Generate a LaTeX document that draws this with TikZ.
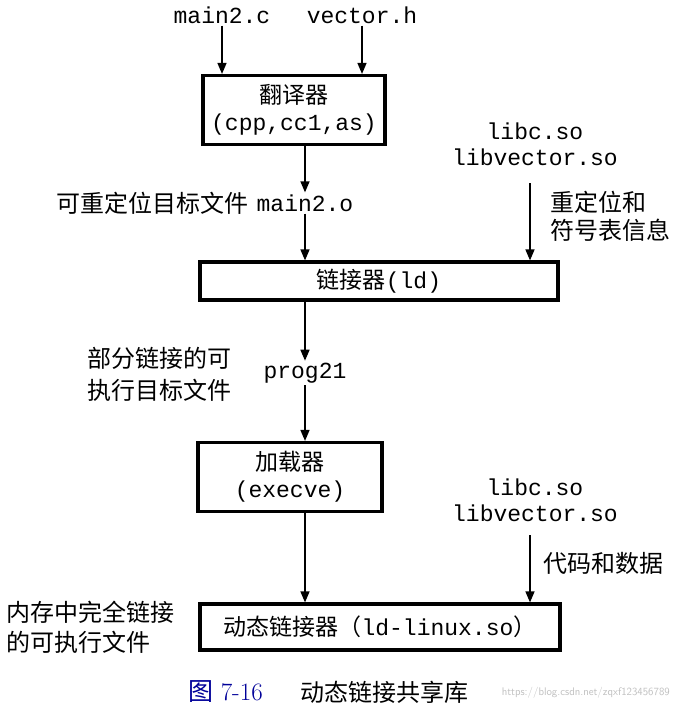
\documentclass[tikz,border=0pt]{standalone}
\usepackage{fontspec}
\setmonofont{Liberation Mono}
\newfontfamily\cjk{Noto Sans CJK SC}
\usepackage{tikz}
\usetikzlibrary{positioning,arrows.meta}

\begin{document}
\begin{tikzpicture}[x=1pt,y=-1pt]
\tikzstyle{every node} = [inner sep = 2pt, font = \fontsize{23}{28}\selectfont];
\tikzstyle{file} = [font = \fontsize{23}{26}\selectfont\ttfamily, align = center];
\tikzstyle{cn} = [font = \fontsize{24}{30}\selectfont\cjk, align = left];
\tikzstyle{box} = [draw, line width = 3.2pt, align = center, inner sep = 0pt];
\tikzstyle{arr} = [line width = 1.4pt, -{Triangle[length=11pt,width=9pt]}];
\useasboundingbox (0,0) rectangle (677,721);
% inputs
\node[file] (mainc) at (222,15) {main2.c};
\node[file] (vech) at (362,15) {vector.h};
\node[box, minimum width = 182, minimum height = 69] (trans) at (294,110)
  {{\cjk 翻译器}\\[-1pt]\ttfamily(cpp,cc1,as)};
\draw[arr] (mainc) -- (mainc |- trans.north);
\draw[arr] (vech) -- (vech |- trans.north);
% relocatable object
\node[file] (maino) at (305,203) {main2.o};
\node[cn, left = 4pt of maino] (objlbl) {可重定位目标文件};
\draw[arr] (maino |- trans.south) -- (maino);
% shared libs for the linker
\node[file] (libsA) at (535,144) {libc.so\\libvector.so};
\coordinate (libA) at (530,183);
\node[box, minimum width = 358, minimum height = 38] (link) at (379,281)
  {{\cjk 链接器}\ttfamily(ld)};
\draw[arr] (maino) -- (maino |- link.north);
\draw[arr] (libA) -- (libA |- link.north);
\node[cn, anchor = west, font = \fontsize{24}{28}\selectfont\cjk] (symlbl) at (548,216) {重定位和\\符号表信息};
% partially linked
\node[file] (prog) at (305,373) {prog21};
\node[cn, anchor = east, font = \fontsize{24}{32}\selectfont\cjk] (proglbl) at (234,374) {部分链接的可\\执行目标文件};
\draw[arr] (prog |- link.south) -- (prog);
% loader
\node[box, minimum width = 184, minimum height = 69] (load) at (290,477)
  {{\cjk 加载器}\\[-1pt]\ttfamily(execve)};
\draw[arr] (prog) -- (prog |- load.north);
\node[file] (libsB) at (535,500) {libc.so\\libvector.so};
\coordinate (libB) at (530,535);
\node[box, minimum width = 360, minimum height = 46] (dyn) at (380,627)
  {{\cjk 动态链接器（}\ttfamily ld-linux.so{\cjk ）}};
\draw[arr] (prog |- load.south) -- (prog |- dyn.north);
\draw[arr] (libB) -- (libB |- dyn.north);
\node[cn, anchor = west] (datalbl) at (541,563) {代码和数据};
\node[cn, anchor = west] (memlbl) at (4,627) {内存中完全链接\\的可执行文件};
% caption
\node[anchor = west, text = blue!60!black, font = \fontsize{25}{28}\selectfont] (fig) at (186,692) {{\cjk 图} 7-16};
\node[cn, anchor = west] (cap) at (298,692) {动态链接共享库};
\node[anchor = east, text = black!25, font = \fontsize{11}{14}\sffamily] (mark) at (672,693) {https://blog.csdn.net/zqxf123456789};
\end{tikzpicture}
\end{document}
